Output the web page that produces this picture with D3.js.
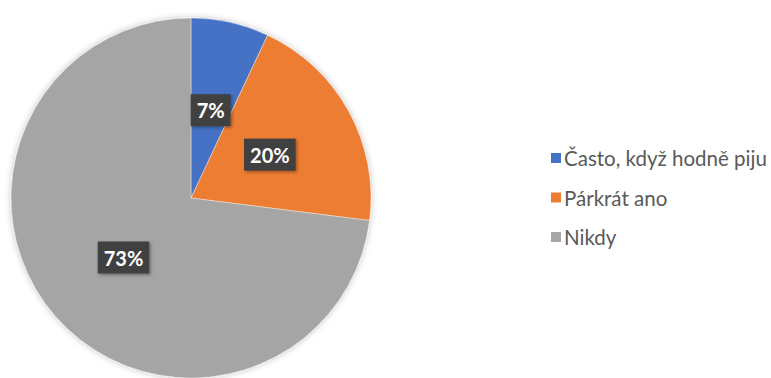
<!DOCTYPE html>
<html>
<head>
<meta charset="utf-8">
<script src="https://cdn.jsdelivr.net/npm/d3@7"></script>
<style>
  html, body { margin: 0; padding: 0; background: #ffffff; }
  svg { display: block; }
</style>
</head>
<body>
<svg id="chart" width="771" height="378"></svg>
<script>
// Survey answers and their shares (percent)
const categories = ["Často, když hodně piju", "Párkrát ano", "Nikdy"];
const values = [7, 20, 73];
const colors = ["#4472C4", "#ED7D31", "#A5A5A5"];

const width = 771, height = 378;
const cx = 191, cy = 198, radius = 180;

const svg = d3.select("#chart");

const defs = svg.append("defs");
const pieShadow = defs.append("filter").attr("id", "pieShadow")
  .attr("x", "-10%").attr("y", "-10%").attr("width", "120%").attr("height", "120%");
pieShadow.append("feDropShadow").attr("dx", 0).attr("dy", 0)
  .attr("stdDeviation", 3).attr("flood-color", "#000").attr("flood-opacity", 0.25);

const labelShadow = defs.append("filter").attr("id", "labelShadow")
  .attr("x", "-30%").attr("y", "-30%").attr("width", "160%").attr("height", "160%");
labelShadow.append("feDropShadow").attr("dx", 1.5).attr("dy", 1.5)
  .attr("stdDeviation", 1.5).attr("flood-color", "#000").attr("flood-opacity", 0.35);

const pie = d3.pie().sort(null).value(d => d)(values);
const arc = d3.arc().innerRadius(0).outerRadius(radius);

const g = svg.append("g").attr("transform", `translate(${cx},${cy})`);

g.append("g").attr("filter", "url(#pieShadow)")
  .selectAll("path")
  .data(pie)
  .join("path")
  .attr("d", arc)
  .attr("fill", (d, i) => colors[i])
  .attr("stroke", "#ffffff")
  .attr("stroke-width", 0.4);

// Data labels: dark boxes at the slice centroids
const labels = g.append("g").selectAll("g")
  .data(pie)
  .join("g")
  .attr("transform", d => `translate(${arc.centroid(d)})`);

labels.each(function(d) {
  const sel = d3.select(this);
  const txt = sel.append("text")
    .attr("text-anchor", "middle")
    .attr("dominant-baseline", "central")
    .attr("font-family", "Lato, 'Open Sans', sans-serif")
    .attr("font-weight", "bold")
    .attr("font-size", 20)
    .attr("fill", "#ffffff")
    .text(d.data + "%");
  const w = txt.node().getComputedTextLength();
  sel.insert("rect", "text")
    .attr("x", -w / 2 - 6)
    .attr("y", -16)
    .attr("width", w + 12)
    .attr("height", 32)
    .attr("fill", "#404040")
    .attr("filter", "url(#labelShadow)");
});

// Legend
const legend = svg.append("g").attr("transform", "translate(551,158)");
const rows = legend.selectAll("g")
  .data(categories)
  .join("g")
  .attr("transform", (d, i) => `translate(0,${i * 39.5})`);

rows.append("rect")
  .attr("x", 0).attr("y", -5)
  .attr("width", 10).attr("height", 10)
  .attr("fill", (d, i) => colors[i]);

rows.append("text")
  .attr("x", 13)
  .attr("y", 0)
  .attr("dominant-baseline", "central")
  .attr("font-family", "Lato, 'Open Sans', sans-serif")
  .attr("font-size", 20.5)
  .attr("fill", "#595959")
  .text(d => d);
</script>
</body>
</html>
